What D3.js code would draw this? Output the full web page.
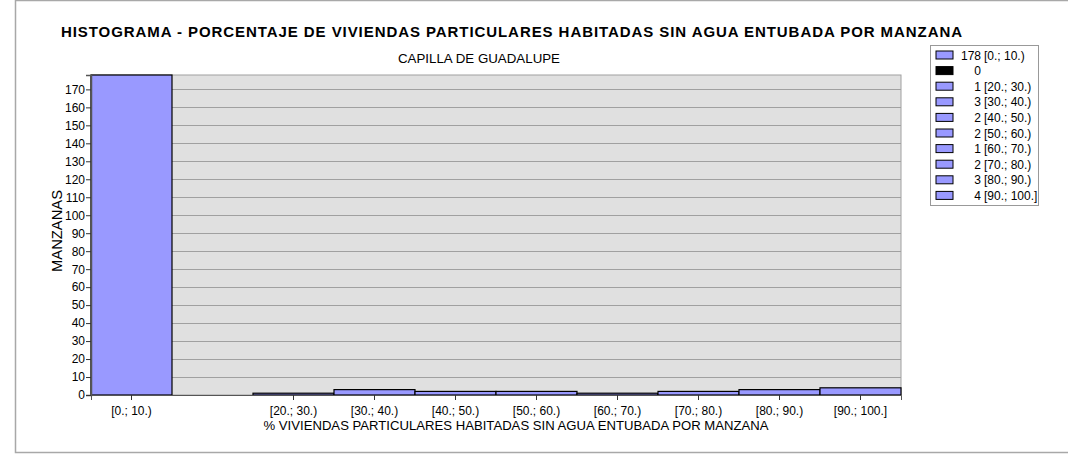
<!DOCTYPE html>
<html>
<head>
<meta charset="utf-8">
<script src="https://cdn.jsdelivr.net/npm/d3@7"></script>
<style>
  body { margin: 0; background: #fff; }
  svg { font-family: "Liberation Sans", Arial, sans-serif; }
</style>
</head>
<body>
<script>
// histogram bins and counts
var bins = ["[0.; 10.)", "[10.; 20.)", "[20.; 30.)", "[30.; 40.)", "[40.; 50.)",
            "[50.; 60.)", "[60.; 70.)", "[70.; 80.)", "[80.; 90.)", "[90.; 100.]"]
var counts = [178, 0, 1, 3, 2, 2, 1, 2, 3, 4]
var yTicks = d3.range(0, 171, 10)

var title = "HISTOGRAMA - PORCENTAJE DE VIVIENDAS PARTICULARES HABITADAS SIN AGUA ENTUBADA POR MANZANA"
var subtitle = "CAPILLA DE GUADALUPE"
var xTitle = "% VIVIENDAS PARTICULARES HABITADAS SIN AGUA ENTUBADA POR MANZANA"
var yTitle = "MANZANAS"

var width = 1068, height = 458
var plot = {left: 91, right: 901, top: 75, bottom: 395}

var svg = d3.select("body").append("svg")
  .attr("width", width).attr("height", height)

// outer frame
svg.append("rect")
  .attr("x", 15.5).attr("y", 0.5)
  .attr("width", 1060).attr("height", 452)
  .style("fill", "none").style("stroke", "#a8a8a8").style("stroke-width", 1.5)

var x = d3.scaleBand().domain(bins).range([plot.left, plot.right]).padding(0)
var y = d3.scaleLinear().domain([0, 178]).range([plot.bottom, plot.top])

// plot background
svg.append("rect")
  .attr("x", plot.left).attr("y", plot.top)
  .attr("width", plot.right - plot.left).attr("height", plot.bottom - plot.top)
  .style("fill", "#e0e0e0")
  .style("stroke", "#a0a0a0")

// gridlines
svg.append("g").selectAll("line")
  .data(yTicks.filter(function(d){ return d > 0 }))
  .enter().append("line")
  .attr("x1", plot.left).attr("x2", plot.right)
  .attr("y1", function(d){ return Math.round(y(d)) + 0.5 })
  .attr("y2", function(d){ return Math.round(y(d)) + 0.5 })
  .style("stroke", "#a0a0a0")

// bars
svg.append("g").selectAll("rect")
  .data(bins)
  .enter().append("rect")
  .attr("x", function(d){ return x(d) })
  .attr("width", x.bandwidth())
  .attr("y", function(d, i){ return y(counts[i]) })
  .attr("height", function(d, i){ return plot.bottom - y(counts[i]) })
  .style("fill", function(d, i){ return counts[i] > 0 ? "#9999ff" : "#000" })
  .style("stroke", "#000")
  .style("stroke-width", 1.2)

// y axis
var yaxis = d3.axisLeft(y).tickValues(yTicks).tickSize(5).tickPadding(1)
var gy = svg.append("g").attr("transform", "translate(" + plot.left + ",0)").call(yaxis)
gy.select(".domain").style("stroke", "#555").style("stroke-width", 1.5)
gy.selectAll(".tick line").style("stroke", "#333")
gy.selectAll("text").style("font-size", "12px").style("fill", "#000")

// x axis (labels only for non-empty bins)
var xaxis = d3.axisBottom(x)
  .tickValues(bins.filter(function(d, i){ return counts[i] > 0 }))
  .tickSize(5).tickPadding(6)
var gx = svg.append("g").attr("transform", "translate(0," + plot.bottom + ")").call(xaxis)
gx.select(".domain").style("stroke", "#555")
gx.selectAll(".tick line").style("stroke", "#333")
gx.selectAll("text").style("font-size", "12px").style("fill", "#000")

// titles
svg.append("text").text(title)
  .attr("x", 61).attr("y", 37)
  .attr("textLength", 901).attr("lengthAdjust", "spacing")
  .style("font-size", "15px").style("font-weight", "bold")

svg.append("text").text(subtitle)
  .attr("x", 479).attr("y", 63).attr("text-anchor", "middle")
  .attr("textLength", 162).attr("lengthAdjust", "spacingAndGlyphs")
  .style("font-size", "13px")

svg.append("text").text(xTitle)
  .attr("x", 516).attr("y", 430).attr("text-anchor", "middle")
  .attr("textLength", 505).attr("lengthAdjust", "spacingAndGlyphs")
  .style("font-size", "13px")

svg.append("text").text(yTitle)
  .attr("transform", "translate(62,231) rotate(-90)")
  .attr("text-anchor", "middle")
  .attr("textLength", 82).attr("lengthAdjust", "spacingAndGlyphs")
  .style("font-size", "14px")

// legend
var legend = svg.append("g")
legend.append("rect")
  .attr("x", 930.5).attr("y", 45.5).attr("width", 108).attr("height", 160)
  .style("fill", "#fff").style("stroke", "#999")

var rows = legend.selectAll("g.row")
  .data(bins)
  .enter().append("g").attr("class", "row")
  .attr("transform", function(d, i){ return "translate(0," + (55 + i * 15.6) + ")" })

rows.append("rect")
  .attr("x", 936).attr("y", -4).attr("width", 17).attr("height", 8)
  .style("fill", function(d, i){ return counts[i] > 0 ? "#9999ff" : "#000" })
  .style("stroke", "#000")

rows.append("text")
  .attr("x", 981).attr("y", 4.5).attr("text-anchor", "end")
  .style("font-size", "12px")
  .text(function(d, i){ return counts[i] })

rows.append("text")
  .attr("x", 984).attr("y", 4.5)
  .style("font-size", "12px")
  .text(function(d, i){ return counts[i] > 0 ? d : "" })
</script>
</body>
</html>
